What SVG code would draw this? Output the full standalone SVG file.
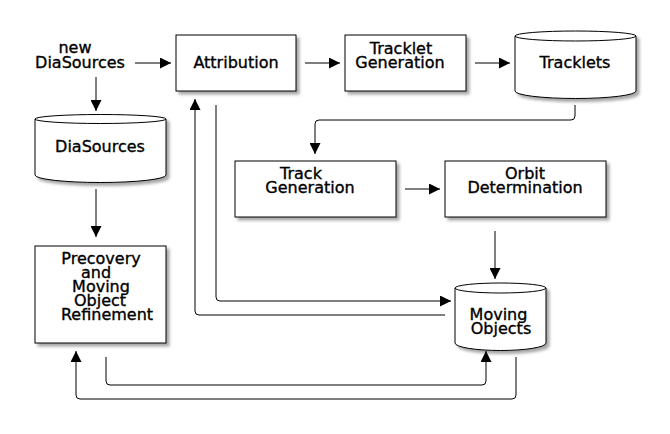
<svg xmlns="http://www.w3.org/2000/svg" width="670" height="434" viewBox="0 0 670 434">
<style>
.n{fill:#fff;stroke:#000;stroke-width:1;filter:url(#sh)}
.t{font-family:"DejaVu Sans",sans-serif;font-size:16px;fill:#000;stroke:#000;stroke-width:0.35;text-anchor:middle}
.c{fill:none;stroke:#000;stroke-width:1;marker-end:url(#ah)}
.p{fill:none;stroke:#000;stroke-width:1}
</style>
<defs>
<filter id="sh" x="-10%" y="-10%" width="130%" height="130%">
<feDropShadow dx="3" dy="3" stdDeviation="1.5" flood-color="#000" flood-opacity="0.35"/>
</filter>
<marker id="ah" viewBox="0 0 11 11" refX="11" refY="5.5" markerWidth="11" markerHeight="11" markerUnits="userSpaceOnUse" orient="auto">
<path d="M0,0 L11,5.5 L0,11 Z" fill="#000"/>
</marker>
</defs>
<rect width="670" height="434" fill="#fff"/>
<g id="connectors">
<path class="c" d="M135,63 H171"/>
<path class="c" d="M305,63 H340"/>
<path class="c" d="M475,63 H510"/>
<path class="c" d="M96,77 V111"/>
<path class="c" d="M96,189 V237"/>
<path class="c" d="M575,105 V116 Q575,120 571,120 H319 Q315,120 315,124 V154"/>
<path class="c" d="M405,189 H440"/>
<path class="c" d="M495,231 V279"/>
<path class="c" d="M216,105 V297 Q216,301 220,301 H451"/>
<path class="c" d="M445,315 H199 Q195,315 195,311 V99"/>
<path class="c" d="M106,357 V381 Q106,385 110,385 H482 Q486,385 486,381 V351"/>
<path class="c" d="M516,357 V395 Q516,399 512,399 H80 Q76,399 76,395 V351"/>
</g>
<g id="new-diasources">
<text class="t" x="75" y="53">new</text>
<text class="t" x="80" y="68">DiaSources</text>
</g>
<g id="attribution">
<rect class="n" x="176" y="35" width="120" height="56"/>
<text class="t" x="236" y="68">Attribution</text>
</g>
<g id="tracklet-generation">
<rect class="n" x="345" y="35" width="121" height="56"/>
<text class="t" x="401" y="54">Tracklet</text>
<text class="t" x="400" y="68">Generation</text>
</g>
<g id="tracklets">
<path class="n" d="M515,36 A60.5,5 0 0 1 636,36 V91 A60.5,7.5 0 0 1 515,91 Z"/>
<path class="p" d="M515,36 A60.5,5 0 0 0 636,36"/>
<text class="t" x="575" y="68">Tracklets</text>
</g>
<g id="diasources">
<path class="n" d="M35,119 A65.5,4.5 0 0 1 166,119 V175 A65.5,7.5 0 0 1 35,175 Z"/>
<path class="p" d="M35,119 A65.5,4.5 0 0 0 166,119"/>
<text class="t" x="100" y="152">DiaSources</text>
</g>
<g id="precovery">
<rect class="n" x="35" y="246" width="131" height="97"/>
<text class="t" x="101" y="264">Precovery</text>
<text class="t" x="96" y="278">and</text>
<text class="t" x="101" y="292">Moving</text>
<text class="t" x="100" y="306">Object</text>
<text class="t" x="107" y="320">Refinement</text>
</g>
<g id="track-generation">
<rect class="n" x="235" y="161" width="161" height="56"/>
<text class="t" x="301" y="179">Track</text>
<text class="t" x="310" y="193">Generation</text>
</g>
<g id="orbit-determination">
<rect class="n" x="445" y="161" width="161" height="56"/>
<text class="t" x="525" y="179">Orbit</text>
<text class="t" x="525" y="193">Determination</text>
</g>
<g id="moving-objects">
<path class="n" d="M455,288 A45.5,5 0 0 1 546,288 V343 A45.5,7.5 0 0 1 455,343 Z"/>
<path class="p" d="M455,288 A45.5,5 0 0 0 546,288"/>
<text class="t" x="498.5" y="320">Moving</text>
<text class="t" x="501" y="334">Objects</text>
</g>
</svg>
